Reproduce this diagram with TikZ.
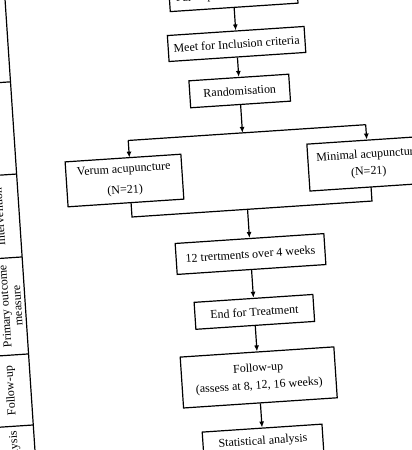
\documentclass[tikz,border=0pt]{standalone}
\usepackage{fontspec}
\setmainfont{Liberation Serif}
\usetikzlibrary{arrows.meta}
\begin{document}
\begin{tikzpicture}[x=1pt,y=-1pt,
  box/.style={draw, line width=1.2pt, inner sep=0pt, align=center, font=\fontsize{12}{15}\selectfont, transform shape},
  lab/.style={rotate=90, align=center, font=\fontsize{12}{12.5}\selectfont, transform shape},
  arr/.style={-{Latex[length=6pt,width=5pt]}, line width=1.2pt},
  ln/.style={line width=1.2pt}]
\useasboundingbox (0,0) rectangle (412,450);
\clip (0,0) rectangle (412,450);
\begin{scope}[rotate around={3.8:(206,225)}]
  % left stage column
  \draw[ln] (20.4,-40) -- (20.4,520);
  \foreach \yy in {69.2,161.6,244.7,341.9,413.1}
    \draw[ln] (-60,\yy) -- (20.4,\yy);
  \node[lab] (lint) at (0.5,203.2) {Intervention};
  \node[lab] (lprim) at (6.3,293) {Primary outcome\\measure};
  \node[lab] (lfol) at (0.5,377.5) {Follow-up};
  \node[lab] (lana) at (0.5,439) {Analysis};
  % flow boxes
  \node[box, minimum width=128pt, minimum height=24pt] (top) at (248.5,-2.3) {Participants recruitment};
  \node[box, minimum width=137pt, minimum height=26pt] (meet) at (248.5,46.4) {Meet for Inclusion criteria};
  \node[box, minimum width=100pt, minimum height=27pt] (rand) at (248.5,93.5) {Randomisation};
  \node[box, minimum width=116pt, minimum height=45pt] (verum) at (127.6,175.2) {Verum acupuncture\\[6pt](N=21)};
  \node[box, minimum width=120pt, minimum height=47pt] (minimal) at (372,174.5) {Minimal acupuncture\\[2pt](N=21)};
  \node[box, minimum width=149pt, minimum height=31pt] (treat) at (248.5,256.9) {12 trertments over 4 weeks};
  \node[box, minimum width=119pt, minimum height=27pt] (end) at (248.5,314.9) {End for Treatment};
  \node[box, minimum width=154pt, minimum height=51pt] (follow) at (248.5,380.6) {Follow-up\\[2.5pt](assess at 8, 12, 16 weeks)};
  \node[box, minimum width=120pt, minimum height=27pt] (stat) at (248.5,444.9) {Statistical analysis};
  % connectors
  \draw[arr] (top) -- (meet);
  \draw[arr] (meet) -- (rand);
  \coordinate (bm) at (248.5,135.5);
  \coordinate (bl) at (134,135.5);
  \coordinate (br) at (372,135.5);
  \coordinate (vin) at (134,152.7);
  \draw[arr] (rand) -- (bm);
  \draw[ln] (bl) -- (br);
  \draw[arr] (bl) -- (vin);
  \draw[arr] (br) -- (minimal);
  \coordinate (vb) at (132.7,197.7);
  \coordinate (mb) at (373.2,198);
  \coordinate (ml) at (132.7,212.1);
  \coordinate (mr) at (373.2,212.1);
  \coordinate (mm) at (248.5,212.1);
  \draw[ln] (vb) -- (ml) -- (mr) -- (mb);
  \draw[arr] (mm) -- (treat);
  \draw[arr] (treat) -- (end);
  \draw[arr] (end) -- (follow);
  \draw[arr] (follow) -- (stat);
\end{scope}
\end{tikzpicture}
\end{document}
